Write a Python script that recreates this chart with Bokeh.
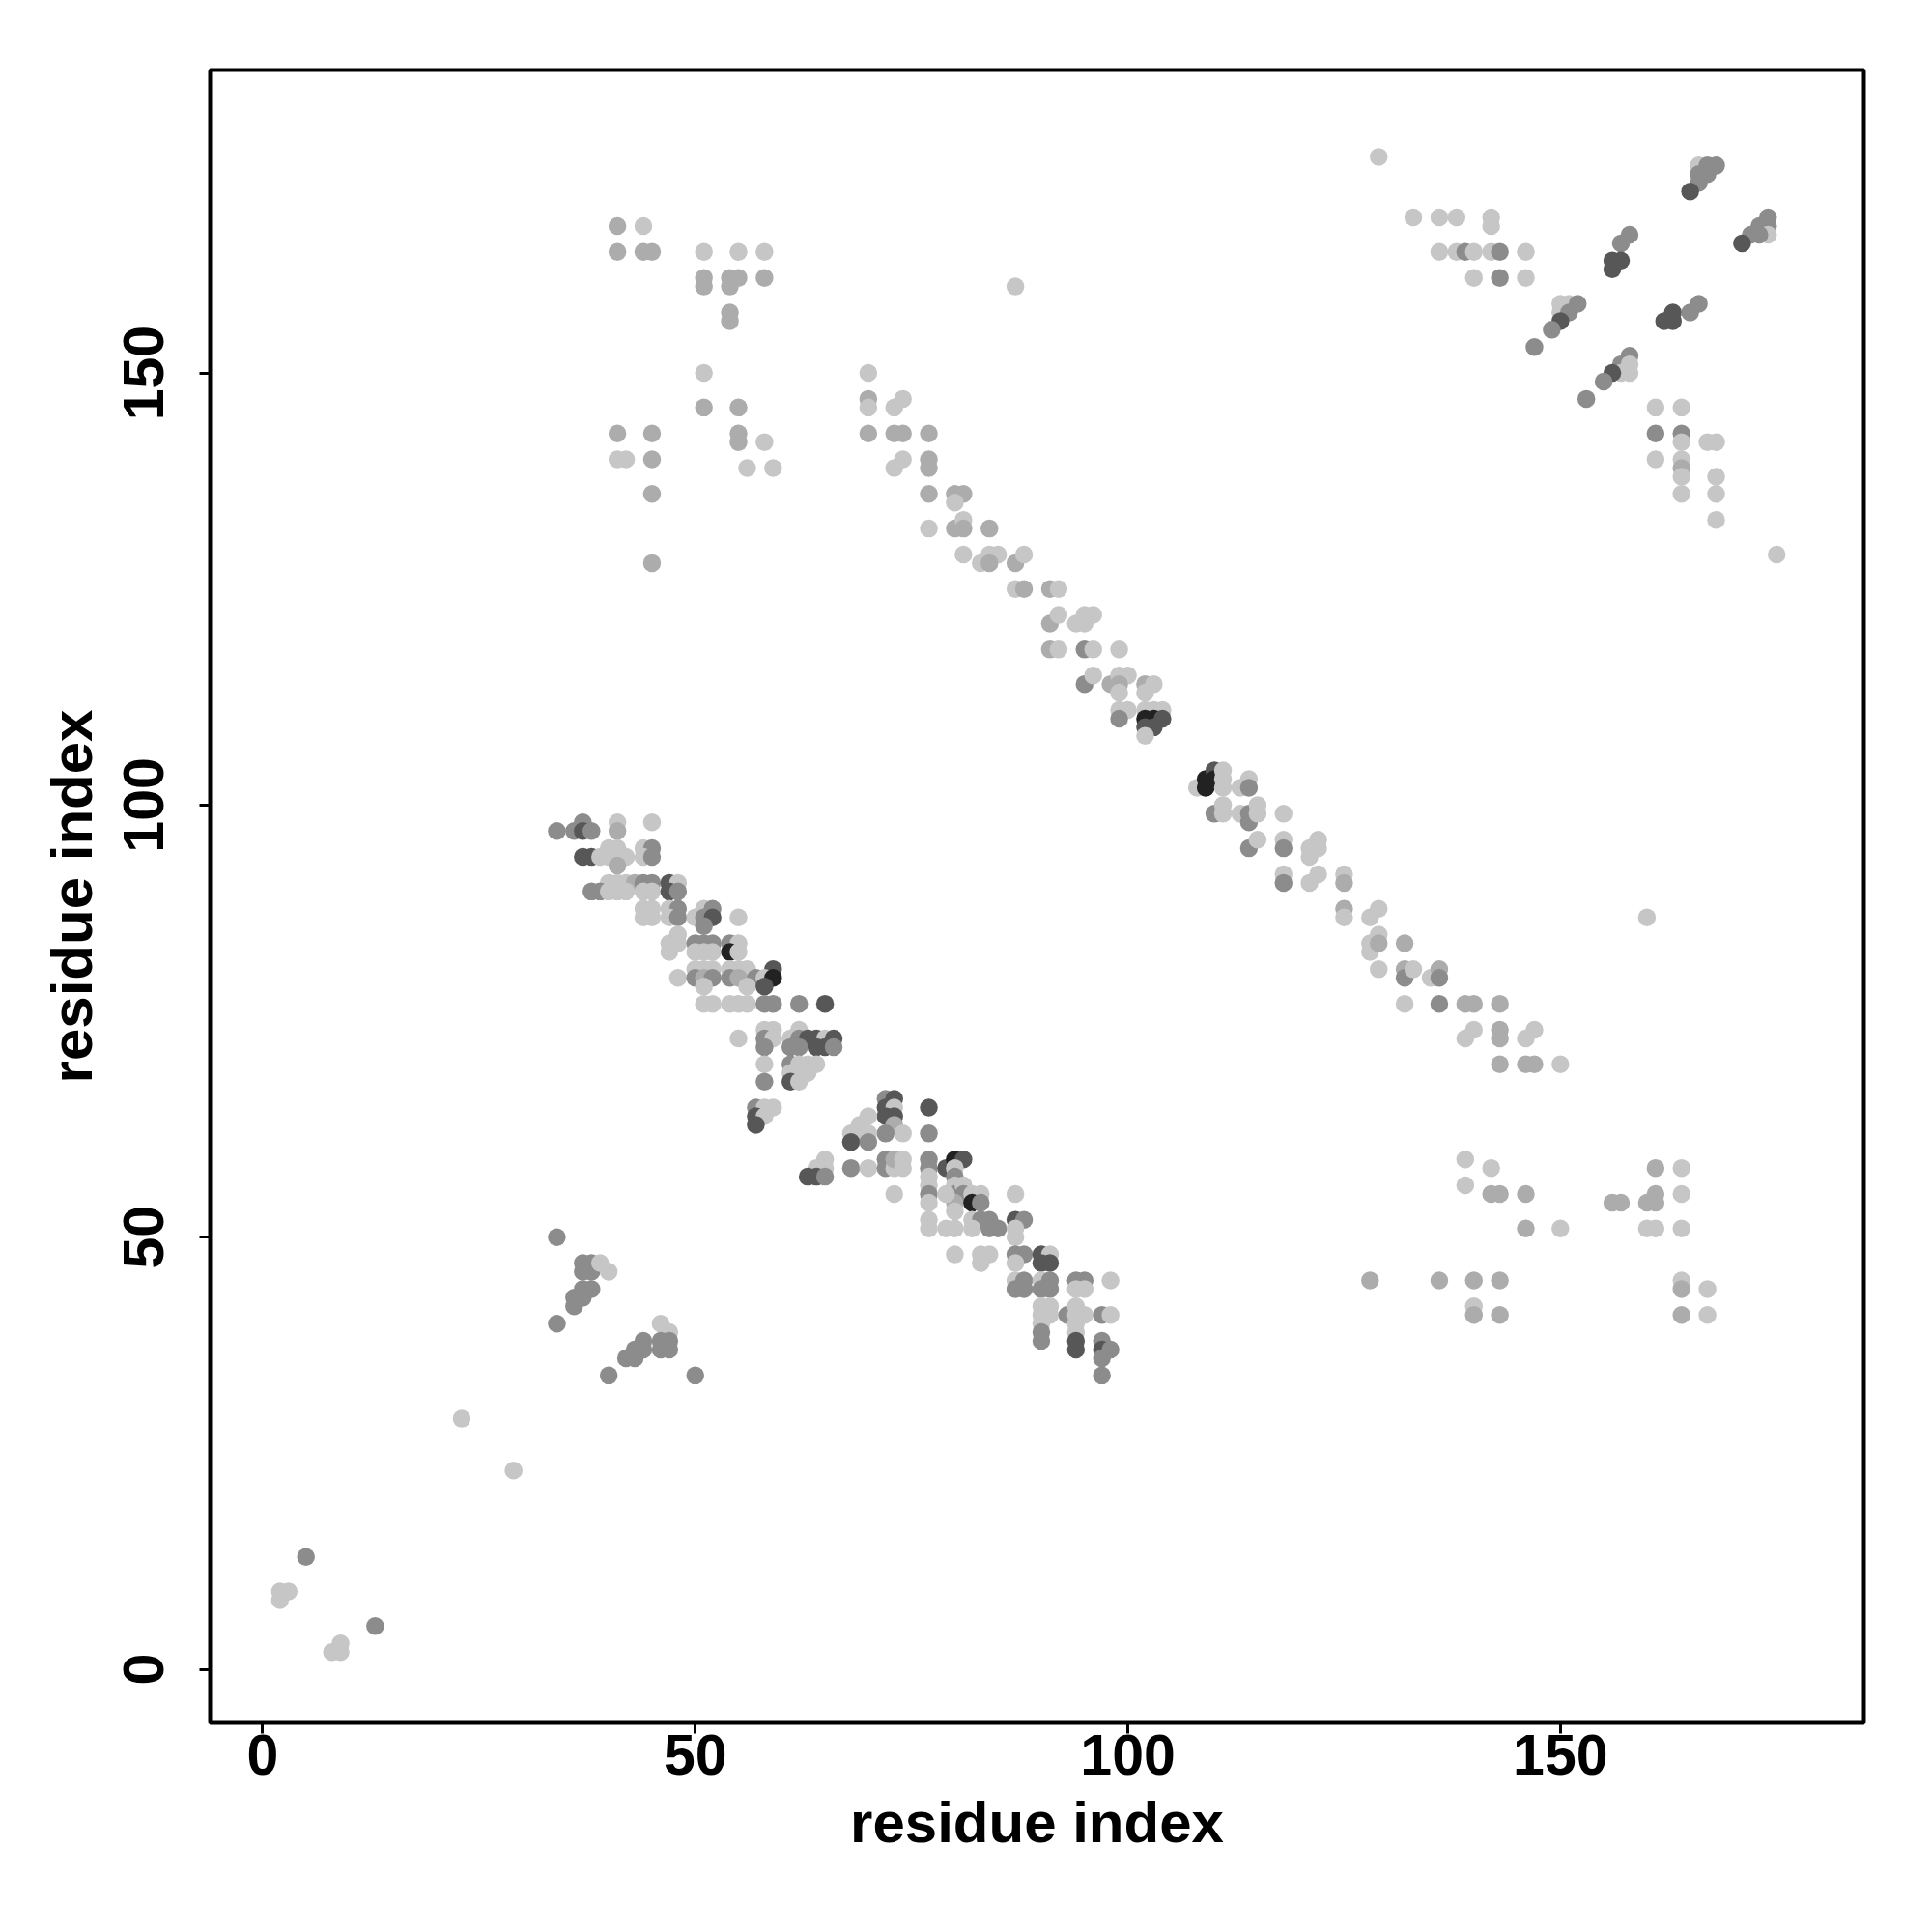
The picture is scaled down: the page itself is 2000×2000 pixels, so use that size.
from bokeh.plotting import figure
from bokeh.models import ColumnDataSource, Range1d, FixedTicker
from bokeh.embed import file_html
from bokeh.resources import INLINE

# contacts: (residue i, residue j, strength level 1=light .. 5=darkest)
contacts = [
    (2,8,1),(2,9,1),(3,9,1),(5,13,3),(13,5,3),(8,2,1),(9,2,1),(9,3,1),(23,29,1),(29,23,1),
    (34,50,3),(34,40,3),(40,34,3),(50,34,3),(37,47,3),(38,47,3),(37,46,3),(38,46,3),(39,47,1),(40,46,1),
    (36,42,3),(36,43,3),(37,43,3),(37,44,3),(38,44,3),(46,40,1),(47,39,1),(46,38,3),(47,38,3),(46,37,3),
    (47,37,3),(44,38,3),(43,37,3),(44,37,3),(42,36,3),(43,36,3),
    (37,98,3),(41,98,1),(45,98,1),(34,97,3),(36,97,3),(37,97,4),(38,97,3),(41,97,2),
    (40,95,1),(41,95,1),(44,95,1),(45,95,3),
    (37,94,4),(38,94,4),(39,94,1),(40,94,1),(41,94,1),(42,94,1),(44,94,1),(45,94,3),(41,93,2),
    (40,91,1),(41,91,1),(42,91,1),(43,91,2),(44,91,3),(45,91,3),(47,91,4),(48,91,1),
    (38,90,3),(39,90,3),(40,90,1),(41,90,1),(42,90,1),(44,90,1),(45,90,1),(47,90,4),(48,90,3),
    (44,88,1),(45,88,1),(47,88,1),(48,88,3),(51,88,1),(52,88,3),
    (44,87,1),(45,87,1),(47,87,1),(48,87,3),(50,87,1),(51,87,3),(52,87,4),(55,87,1),
    (51,86,3),(48,85,1),
    (47,84,1),(48,84,1),(50,84,3),(51,84,3),(52,84,3),(54,84,3),(55,84,1),
    (47,83,1),(50,83,1),(51,83,1),(52,83,1),(54,83,5),(55,83,1),
    (50,81,1),(51,81,1),(52,81,1),(54,81,1),(55,81,1),(56,81,1),(59,81,4),
    (48,80,1),(50,80,3),(51,80,2),(52,80,3),(54,80,3),(55,80,2),(57,80,3),(58,80,1),(59,80,5),
    (51,79,1),(56,79,1),(58,79,4),
    (51,77,1),(52,77,1),(54,77,1),(55,77,1),(56,77,1),(58,77,3),(59,77,3),(62,77,3),(65,77,4),
    (58,74,1),(59,74,1),(62,74,1),
    (55,73,1),(58,73,3),(59,73,1),(61,73,1),(62,73,3),(63,73,4),(64,73,4),(65,73,1),(66,73,4),
    (58,72,3),(61,72,3),(62,72,3),(64,72,4),(65,72,4),(66,72,3),
    (58,70,1),(61,70,3),(62,70,1),(63,70,1),(64,70,1),(61,69,1),(62,69,1),(63,69,1),
    (58,68,3),(61,68,4),(62,68,1),(57,65,3),(58,65,1),(59,65,1),(57,64,4),(58,64,1),(57,63,4),
    (72,66,3),(73,66,4),(72,65,4),(73,65,1),(72,64,4),(73,64,4),(73,63,2),
    (74,62,1),(72,62,3),(70,64,1),(69,63,1),(68,62,1),(69,62,1),(70,62,1),(68,61,4),(70,61,3),
    (65,59,1),(64,58,1),(65,58,1),(63,57,4),(64,57,4),(65,57,3),
    (68,58,3),(70,58,1),(72,59,3),(72,58,3),(73,58,1),(73,59,2),(74,59,1),(74,58,1),(73,55,1),
    (77,65,4),(77,62,3),(77,59,3),(77,58,3),(77,57,1),(77,56,1),(77,55,3),(77,54,1),(77,52,1),(77,51,1),
    (79,58,4),(80,59,5),(81,59,4),(80,58,1),(80,57,3),(80,56,1),(80,55,3),(81,56,1),(81,55,3),
    (80,54,2),(80,53,1),(79,55,1),
    (82,55,1),(83,55,1),(82,54,5),(83,54,3),(87,55,1),
    (82,52,1),(83,52,3),(84,52,3),(82,51,1),(84,51,3),(85,51,3),(87,52,4),(88,52,3),(87,51,1),(87,50,1),
    (80,51,1),(79,51,1),(80,48,1),
    (83,48,1),(84,48,1),(83,47,1),(87,48,3),(88,48,3),(90,48,4),(91,48,1),(90,47,4),(91,47,4),(87,47,1),
    (87,45,1),(88,45,3),(87,44,3),(88,44,3),(90,45,1),(91,45,3),(90,44,3),(91,44,3),
    (94,45,3),(95,45,3),(94,44,1),(95,44,1),(98,45,1),
    (90,42,1),(91,42,1),(90,41,1),(91,41,1),(90,40,1),(90,39,3),(90,38,3),(93,41,3),
    (94,42,1),(94,41,1),(94,40,1),(94,39,1),(95,41,1),(97,41,3),(98,41,1),
    (94,38,4),(94,37,4),(97,38,3),(97,37,4),(98,37,3),(97,36,3),(97,34,3),
    (70,150,1),(70,147,2),(70,146,1),(73,146,1),(74,147,1),
    (70,143,2),(73,143,2),(74,143,2),(77,143,2),
    (73,139,1),(74,140,1),(77,140,2),(77,139,2),
    (77,136,2),(80,136,2),(81,136,2),(80,135,1),
    (77,132,1),(80,132,2),(81,133,1),(81,132,2),(84,132,2),
    (81,129,1),(83,128,1),(84,129,1),(85,129,1),(84,128,2),(87,128,2),(88,129,1),
    (87,125,1),(88,125,2),(91,125,2),(92,125,1),
    (91,121,2),(92,122,1),(94,121,1),(95,122,1),(96,122,1),(95,121,1),
    (91,118,2),(92,118,1),(95,118,3),(96,118,1),(99,118,1),
    (95,114,3),(96,115,1),(98,114,2),(99,115,1),(100,115,1),(99,114,2),(99,113,1),(102,114,2),(103,114,1),(102,113,1),
    (99,111,1),(100,111,1),(99,110,3),(102,111,1),(103,111,1),(104,111,1),
    (102,110,5),(103,110,5),(104,110,4),(102,109,4),(103,109,4),(102,108,1),
    (108,102,1),(109,103,5),(109,102,5),(110,104,4),(110,103,5),(111,104,1),(111,103,1),(111,102,1),
    (113,102,1),(114,103,1),(114,102,3),
    (110,99,3),(111,100,1),(111,99,1),(113,99,1),(114,99,3),(114,98,3),(115,100,1),(115,99,1),(118,99,1),
    (114,95,3),(115,96,1),(118,96,1),(118,95,3),(121,95,1),(121,94,1),(122,96,1),(122,95,1),
    (118,92,1),(118,91,3),(121,91,1),(122,92,1),(125,92,1),(125,91,2),
    (125,88,2),(125,87,1),(128,87,1),(129,88,1),
    (128,84,1),(129,85,1),(128,83,1),(129,84,2),(132,84,2),
    (129,81,1),(132,81,2),(132,80,3),(133,81,1),(135,80,1),(136,81,2),(136,80,3),
    (132,77,1),(136,77,3),(139,77,2),(140,77,2),(143,77,2),
    (139,73,1),(140,74,1),(143,74,2),(143,73,2),(146,73,1),(147,74,1),
    (143,70,2),(146,70,2),(147,70,2),(150,70,1),
    (41,167,2),(44,167,1),(41,164,2),(44,164,2),(45,164,2),(51,164,1),(55,164,1),(58,164,1),
    (51,161,2),(51,160,2),(54,161,2),(55,161,2),(54,160,2),(58,161,2),(54,157,2),(54,156,2),
    (51,150,1),(51,146,2),(55,146,2),(55,143,2),(55,142,2),(58,142,1),(56,139,1),(59,139,1),
    (41,143,2),(45,143,2),(41,140,1),(42,140,1),(45,140,2),(45,136,2),(45,128,2),(87,160,1),
    (129,175,1),(133,168,1),(136,168,1),(138,168,1),(142,168,1),(142,167,1),
    (136,164,1),(138,164,1),(139,164,3),(140,164,1),(142,164,1),(143,164,3),(146,164,1),
    (140,161,1),(143,161,3),(146,161,1),
    (166,174,1),(167,174,3),(168,174,3),(166,173,3),(167,173,3),(166,172,3),(165,171,4),
    (174,168,3),(174,167,3),(173,167,3),(172,166,3),(171,165,4),(174,166,1),(173,166,3),
    (158,166,3),(157,165,3),(156,163,4),(157,163,4),(156,162,4),
    (150,158,1),(151,158,1),(152,158,3),(150,157,1),(151,157,3),(150,156,4),(149,155,3),(147,153,3),
    (163,157,4),(162,156,4),(163,156,4),(165,157,3),(166,158,3),
    (158,152,3),(157,151,3),(158,151,1),(158,150,1),(157,150,1),(156,150,4),(155,149,3),(153,147,3),
    (161,146,1),(164,146,1),(161,143,3),(164,143,3),(164,142,1),(167,142,1),(168,142,1),
    (161,140,1),(164,140,1),(164,139,2),(164,138,1),(168,138,1),(164,136,1),(168,136,1),(168,133,1),(175,129,1),
    (139,59,1),(142,58,1),(139,56,1),(142,55,2),(143,55,2),(146,55,2),(146,51,2),(150,51,1),
    (128,45,2),(136,45,2),(140,45,2),(143,45,2),(140,42,1),(140,41,2),(143,41,2),
    (161,58,2),(164,58,1),(156,54,2),(157,54,2),(160,54,2),(161,55,2),(161,54,2),(164,55,1),
    (160,51,1),(161,51,1),(164,51,1),(164,45,1),(164,44,2),(167,44,1),(164,41,2),(167,41,1),(160,87,1),
]

res_x = [c[0] for c in contacts]
res_y = [c[1] for c in contacts]
level = [c[2] for c in contacts]

x_ticks = [0, 50, 100, 150]
y_ticks = [0, 50, 100, 150]
axis_title = "residue index"

gray = {1: "#c6c6c6", 2: "#acacac", 3: "#8c8c8c", 4: "#575757", 5: "#222222"}

src = ColumnDataSource(dict(x=res_x, y=res_y, c=[gray[v] for v in level]))

p = figure(output_backend="svg", toolbar_location=None,
           frame_width=1712, frame_height=1711,
           min_border_left=217, min_border_top=72, min_border_right=40, min_border_bottom=190,
           x_range=Range1d(-6.08, 185.08), y_range=Range1d(-6.2, 185.05))

p.scatter("x", "y", source=src, size=18.5, fill_color="c", line_color=None)

p.xgrid.visible = False
p.ygrid.visible = False
p.outline_line_color = "black"
p.outline_line_width = 4
p.background_fill_color = "white"

for ax, ticks in ((p.xaxis[0], x_ticks), (p.yaxis[0], y_ticks)):
    ax.ticker = FixedTicker(ticks=ticks)
    ax.axis_line_color = None
    ax.major_tick_line_color = "black"
    ax.major_tick_line_width = 3
    ax.major_tick_out = 11
    ax.major_tick_in = 0
    ax.minor_tick_line_color = None
    ax.major_label_text_font = "Liberation Sans"
    ax.major_label_text_font_style = "bold"
    ax.major_label_text_font_size = "59px"
    ax.major_label_text_color = "black"
    ax.axis_label = axis_title
    ax.axis_label_text_font = "Liberation Sans"
    ax.axis_label_text_font_style = "bold"
    ax.axis_label_text_font_size = "60px"
    ax.axis_label_text_color = "black"

p.xaxis.major_label_standoff = 1
p.xaxis.axis_label_standoff = 13
p.yaxis.major_label_orientation = "vertical"
p.yaxis.major_label_standoff = 37
p.yaxis.axis_label_standoff = 18

open("out.html", "w").write(file_html(p, INLINE))
